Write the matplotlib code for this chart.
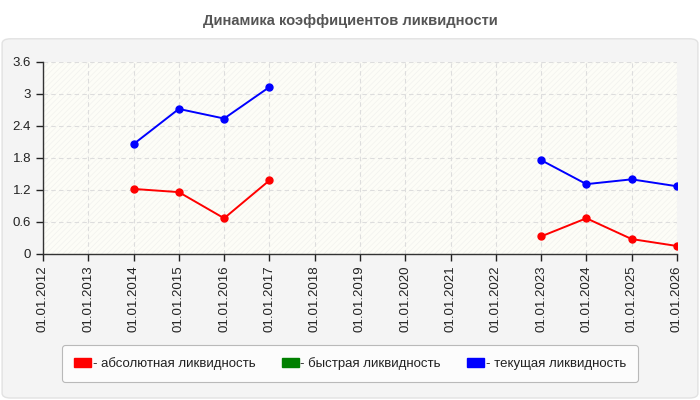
import numpy as np
import matplotlib.pyplot as plt
from matplotlib.patches import FancyBboxPatch, Rectangle, Patch

plt.switch_backend('agg')
plt.rcParams['font.family'] = ['Liberation Sans', 'DejaVu Sans']
plt.rcParams['hatch.linewidth'] = 0.5

# data
years = list(range(2012, 2027))
labels = ["01.01.%d" % y for y in years]
nan = np.nan
absolute = [nan, nan, 1.22, 1.16, 0.67, 1.38, nan, nan, nan, nan, nan, 0.33, 0.67, 0.28, 0.15]
quick = [nan] * 15
current = [nan, nan, 2.06, 2.72, 2.54, 3.13, nan, nan, nan, nan, nan, 1.76, 1.31, 1.40, 1.27]
series_names = ["- абсолютная ликвидность", "- быстрая ликвидность", "- текущая ликвидность"]
colors = ["#ff0000", "#008000", "#0000ff"]

fig = plt.figure(figsize=(7, 4), dpi=100)
fig.patch.set_facecolor("white")

# outer panel
panel = FancyBboxPatch((0.003, 0.005), 0.994, 0.898, boxstyle="round,pad=0,rounding_size=0.012",
                       transform=fig.transFigure, facecolor="#f4f4f4", edgecolor="#e2e2e2",
                       linewidth=1, zorder=-5)
fig.patches.append(panel)

fig.text(0.5, 0.948, "Динамика коэффициентов ликвидности", ha="center", va="center",
         fontsize=10.6, fontweight="bold", color="#555555")

ax = fig.add_axes([0.0614, 0.365, 0.9057, 0.48])
ax.set_zorder(1)
ax.set_facecolor("#fdfdf7")
ax.add_patch(Rectangle((0, 0), 1, 1, transform=ax.transAxes, facecolor="none",
                       edgecolor="#f2f2ee", hatch="//////", linewidth=0, zorder=0))

x = np.arange(len(years))
for vals, c in zip([absolute, quick, current], colors):
    ax.plot(x, vals, color=c, linewidth=1.4, marker="o", markersize=5, zorder=3)

ax.set_xlim(0, len(years) - 1)
ax.set_ylim(0, 3.6)
ax.set_yticks([0, 0.6, 1.2, 1.8, 2.4, 3, 3.6])
ax.set_yticklabels(["0", "0.6", "1.2", "1.8", "2.4", "3", "3.6"])
ax.set_xticks(x)
ax.set_xticklabels(labels, rotation=90)
ax.tick_params(labelsize=9.5, colors="#222222", length=5, width=1, direction="out")
ax.grid(True, linestyle=(0, (4, 3)), color="#dddddd", linewidth=0.8)
ax.set_axisbelow(True)
for s in ["top", "right"]:
    ax.spines[s].set_visible(False)
for s in ["left", "bottom"]:
    ax.spines[s].set_color("#333333")
    ax.spines[s].set_linewidth(1)

handles = [Patch(facecolor=c, edgecolor=c) for c in colors]
leg = fig.legend(handles, series_names, loc="center", bbox_to_anchor=(0.5, 0.091), ncol=3,
                 frameon=True, fancybox=True, fontsize=9.5, handlelength=1.3, handleheight=0.6,
                 handletextpad=0.1, columnspacing=2.0, borderpad=0.9, labelcolor="#222222")
leg.get_frame().set_edgecolor("#aaaaaa")
leg.get_frame().set_facecolor("white")
leg.get_frame().set_linewidth(0.8)

fig.savefig("out.png", dpi=100)
